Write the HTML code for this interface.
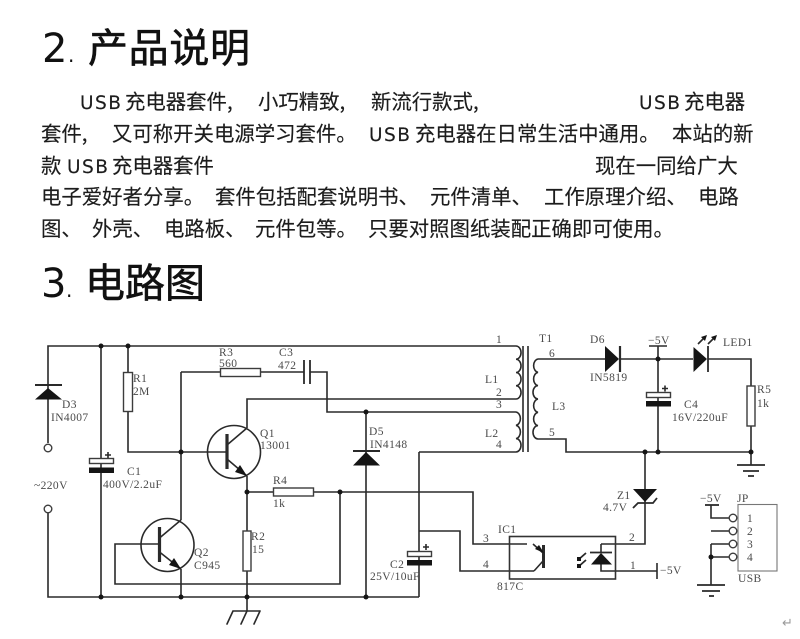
<!DOCTYPE html>
<html lang="zh">
<head>
<meta charset="utf-8">
<title>USB充电器套件</title>
<style>
html,body{margin:0;padding:0;background:#fff;}
svg{display:block;width:800px;height:639px;}
.h{font-family:"Noto Sans CJK SC","WenQuanYi Zen Hei",sans-serif;font-size:40px;fill:#111;stroke:#111;stroke-width:.6px;}
.num{font-family:"DejaVu Sans","Liberation Sans",sans-serif;font-size:40px;fill:#111;}
.dot{font-family:"DejaVu Sans","Liberation Sans",sans-serif;font-size:20px;fill:#111;}
.p text{font-family:"Noto Sans CJK SC","WenQuanYi Zen Hei",sans-serif;font-size:20.4px;fill:#1c1c1c;stroke:#1c1c1c;stroke-width:.15px;}
.p text.u{font-family:"DejaVu Sans","Liberation Sans",sans-serif;font-size:18.5px;}
.w{fill:none;stroke:#2a2a2a;stroke-width:1.6;}
.r{fill:#fff;stroke:#3c3c3c;stroke-width:1.4;}
.b{fill:#151515;stroke:none;}
.t text{font-family:"Liberation Serif",serif;font-size:11.5px;fill:#4a4a4a;letter-spacing:.4px;}
.d{filter:blur(.35px);}
</style>
</head>
<body>
<svg xmlns="http://www.w3.org/2000/svg" width="800" height="639" viewBox="0 0 800 639">
<rect width="800" height="639" fill="#fff"/>
<text class="num" x="42" y="62">2</text><text class="dot" x="68" y="62">.</text>
<text class="h" x="88" y="62" textLength="162">产品说明</text>
<text class="num" x="41" y="297">3</text><text class="dot" x="66" y="297">.</text>
<text class="h" x="85" y="297" textLength="120">电路图</text>

<g class="p">
<text class="u" x="80" y="109" textLength="41">USB</text><text x="125" y="109">充电器套件,</text><text x="258" y="109">小巧精致,</text><text x="371" y="109">新流行款式,</text><text class="u" x="639" y="109" textLength="41">USB</text><text x="684" y="109">充电器</text>
<text x="41" y="141">套件,</text><text x="112" y="141">又可称开关电源学习套件。</text><text class="u" x="369" y="141" textLength="41">USB</text><text x="415" y="141">充电器在日常生活中通用。</text><text x="672" y="141">本站的新</text>
<text x="41" y="173">款</text><text class="u" x="67" y="173" textLength="41">USB</text><text x="112" y="173">充电器套件</text><text x="595" y="173">现在一同给广大</text>
<text x="41" y="204">电子爱好者分享。</text><text x="215" y="204">套件包括配套说明书、</text><text x="430" y="204">元件清单、</text><text x="544" y="204">工作原理介绍、</text><text x="698" y="204">电路</text>
<text x="41" y="236">图、</text><text x="92" y="236">外壳、</text><text x="164" y="236">电路板、</text><text x="255" y="236">元件包等。</text><text x="368" y="236">只要对照图纸装配正确即可使用。</text>
</g>

<g class="d">
<!-- wires -->
<path class="w" d="M48 443V346H516M48 513V597H419M101 346V597M128 346V452H226M181 372V520M181 569V597M181 372H220M261 372H304M310 372H327V412H516M247 428V399H516M247 476V611M247 492H473V544H527M340 492V584H115V544H159M366 412V597M419 452H516M419 452V597M419 531H460V571H534M538 359H605M620 359H693M708 359H751V452M658 346V452M538 439H566V452H751M645 452V544H601M601 544V553M601 564V571H657M751 452V465M711 505V518H729M711 531H729M711 544H729M711 544V585M711 557H729"/>
<path class="w" stroke-linecap="round" d="M233 611H260M233 611L227 624M247 611L241 624M260 611L254 624"/>
<!-- coils -->
<path class="w" d="M516 346a5 6.6 0 0 1 0 13.25a5 6.6 0 0 1 0 13.25a5 6.6 0 0 1 0 13.25a5 6.6 0 0 1 0 13.25"/>
<path class="w" d="M516 412a5 6.7 0 0 1 0 13.3a5 6.7 0 0 1 0 13.3a5 6.7 0 0 1 0 13.4"/>
<path class="w" d="M538 359a5 6.7 0 0 0 0 13.3a5 6.7 0 0 0 0 13.3a5 6.7 0 0 0 0 13.4a5 6.7 0 0 0 0 13.3a5 6.7 0 0 0 0 13.3a5 6.7 0 0 0 0 13.4"/>
<path class="w" d="M523 346V452M528 346V452"/>
<!-- terminals -->
<circle class="r" cx="48" cy="448" r="3.8"/><circle class="r" cx="48" cy="509" r="3.8"/>
<!-- resistors -->
<rect class="r" x="123.5" y="372.5" width="9" height="39"/>
<rect class="r" x="220.500" y="368.500" width="40" height="8"/>
<rect class="r" x="243" y="531" width="8" height="40"/>
<rect class="r" x="273.500" y="488" width="40" height="8"/>
<rect class="r" x="747" y="386" width="8" height="40"/>
<!-- D3 -->
<path class="b" d="M48 388L62 399.500H35Z"/><path class="w" style="stroke-width:2" d="M35 385H62"/>
<!-- C1 -->
<rect class="r" x="89.500" y="458.500" width="24" height="5"/><rect class="b" x="89" y="467.500" width="25" height="5.500"/>
<path class="w" d="M105 455H111M108 452V458"/>
<!-- C3 -->
<path class="w" style="stroke-width:1.8" d="M304 360V384M310 360V384"/>
<!-- Q1 -->
<circle class="w" cx="234" cy="452" r="26.500"/>
<path class="w" style="stroke-width:3.2" d="M227 434V469"/>
<path class="w" d="M227 445L247 428M227 459L247 476"/>
<path class="b" d="M247 476L235 472L240 465Z"/>
<!-- Q2 -->
<circle class="w" cx="167.500" cy="545" r="26.500"/>
<path class="w" style="stroke-width:3.2" d="M159.500 527V562"/>
<path class="w" d="M159.500 538L181 520M159.500 552L181 569"/>
<path class="b" d="M181 569L169 565L174 558Z"/>
<!-- D5 -->
<path class="b" d="M366 452L380 465.500H353Z"/><path class="w" style="stroke-width:2" d="M353 451H380"/>
<!-- C2 -->
<rect class="r" x="407.500" y="551.500" width="24" height="5"/><rect class="b" x="407" y="560" width="25" height="5.500"/>
<path class="w" d="M423 547H429M426 544V550"/>
<!-- D6 -->
<path class="b" d="M605 346L619 359L605 372Z"/><path class="w" style="stroke-width:2.200" d="M620 346V372"/>
<!-- -5V bar -->
<path class="w" d="M649 346H667"/>
<!-- C4 -->
<rect class="r" x="646.500" y="392.500" width="24" height="5"/><rect class="b" x="646" y="401" width="25" height="5.500"/>
<path class="w" d="M662 388.500H668M665 385.500V391.500"/>
<!-- LED1 -->
<path class="b" d="M693.500 347L707 359L693.500 372Z"/><path class="w" style="stroke-width:1.800" d="M708 346V372"/>
<path class="w" d="M698 344L705 337M708 344L715 337"/>
<path class="b" d="M707 335L705 341L701 337ZM717 335L715 341L711 337Z"/>
<!-- ground -->
<path class="w" style="stroke-width:1.800" d="M737 465H765M743 471H759M748 476H754M697 585H725M702 591H720M709 596H714"/>
<!-- Z1 -->
<path class="b" d="M633 489H657L645 502Z"/>
<path class="w" style="stroke-width:1.800" d="M633 508L638 503H653L657 498"/>
<!-- IC -->
<rect x="509.500" y="536.500" width="106" height="42.500" fill="none" stroke="#333" stroke-width="1.600"/>
<path class="w" style="stroke-width:3" d="M543.500 545V568"/>
<path class="w" d="M533 544L543 553M534 571L543 561"/>
<path class="b" d="M544 553L535 549L539 545Z"/>
<path class="b" d="M601 553L612 564.500H591Z"/><path class="w" style="stroke-width:1.800" d="M590 552.500H612"/>
<path class="w" style="stroke-width:1.800" d="M578 560L586 553M578 567L586 560"/>
<path class="b" d="M577 557h4v4h-4zM577 564h4v4h-4z"/>
<path class="w" d="M657 563V579"/>
<!-- connector -->
<rect x="738" y="504.500" width="39" height="66.500" fill="#fff" stroke="#777" stroke-width="1.100"/>
<path class="w" style="stroke-width:1.800" d="M705 505H719"/>
<circle class="r" cx="733" cy="518" r="3.800"/><circle class="r" cx="733" cy="531" r="3.800"/><circle class="r" cx="733" cy="544" r="3.800"/><circle class="r" cx="733" cy="557" r="3.800"/>
<!-- junction dots -->
<g fill="#151515">
<circle cx="101" cy="346" r="2.500"/><circle cx="128" cy="346" r="2.500"/><circle cx="101" cy="597" r="2.500"/><circle cx="181" cy="597" r="2.500"/><circle cx="247" cy="597" r="2.500"/><circle cx="366" cy="597" r="2.500"/><circle cx="181" cy="452" r="2.500"/><circle cx="247" cy="492" r="2.500"/><circle cx="340" cy="492" r="2.500"/><circle cx="366" cy="412" r="2.500"/><circle cx="658" cy="359" r="2.500"/><circle cx="645" cy="452" r="2.500"/><circle cx="658" cy="452" r="2.500"/><circle cx="751" cy="452" r="2.500"/><circle cx="711" cy="557" r="2.500"/>
</g>
<!-- labels -->
<g class="t">
<text x="219" y="356">R3</text><text x="219" y="367">560</text>
<text x="279" y="356">C3</text><text x="278" y="369">472</text>
<text x="133" y="382">R1</text><text x="133" y="395">2M</text>
<text x="62" y="408">D3</text><text x="51" y="421">IN4007</text>
<text x="34" y="489">~220V</text>
<text x="127" y="475">C1</text><text x="103" y="488">400V/2.2uF</text>
<text x="260" y="437">Q1</text><text x="260" y="449">13001</text>
<text x="194" y="556">Q2</text><text x="194" y="569">C945</text>
<text x="251" y="540">R2</text><text x="252" y="553">15</text>
<text x="273" y="484">R4</text><text x="273" y="507">1k</text>
<text x="369" y="435">D5</text><text x="370" y="448">IN4148</text>
<text x="485" y="383">L1</text><text x="485" y="437">L2</text>
<text x="496" y="343">1</text><text x="496" y="396">2</text><text x="496" y="408">3</text><text x="496" y="448">4</text>
<text x="390" y="568">C2</text><text x="370" y="580">25V/10uF</text>
<text x="498" y="533">IC1</text><text x="483" y="542">3</text><text x="483" y="568">4</text><text x="497" y="590">817C</text>
<text x="539" y="342">T1</text><text x="549" y="357">6</text><text x="552" y="410">L3</text><text x="549" y="436">5</text>
<text x="590" y="343">D6</text><text x="590" y="381">IN5819</text>
<text x="648" y="344">−5V</text><text x="723" y="346">LED1</text>
<text x="757" y="393">R5</text><text x="757" y="407">1k</text>
<text x="684" y="408">C4</text><text x="672" y="421">16V/220uF</text>
<text x="617" y="499">Z1</text><text x="603" y="511">4.7V</text>
<text x="629" y="541">2</text><text x="630" y="569">1</text><text x="660" y="574">−5V</text>
<text x="700" y="502">−5V</text><text x="737" y="502">JP</text>
<text x="747" y="522">1</text><text x="747" y="535">2</text><text x="747" y="548">3</text><text x="747" y="561">4</text>
<text x="738" y="582">USB</text>
</g>
<text x="782" y="627" font-family="'DejaVu Sans',sans-serif" font-size="13" fill="#999">↵</text>
</g>
</svg>
</body>
</html>
